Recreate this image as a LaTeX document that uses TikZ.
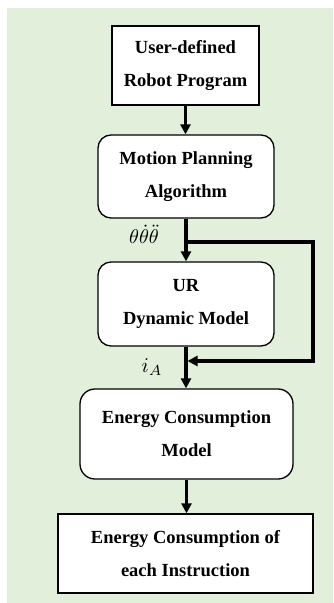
\documentclass[tikz,border=0pt]{standalone}
\usepackage{fontspec}
\usepackage{graphicx}
\setmainfont{Liberation Serif}
\usetikzlibrary{arrows.meta,calc}
\definecolor{bggreen}{RGB}{226,239,218}
\tikzset{
  blk/.style={draw=black, line width=1.3pt, fill=white, align=center,
    font=\bfseries\fontsize{18.5}{33}\selectfont, inner sep=0pt},
  rblk/.style={blk, rounded corners=13pt},
  arr/.style={line width=3.2pt, -{Triangle[width=10pt,length=10pt]}},
  lbl/.style={inner sep=0pt}
}
\begin{document}
\begin{tikzpicture}[x=1pt,y=1pt]
\useasboundingbox (0,0) rectangle (333,-603);
\fill[bggreen] (7,-8) rectangle (333,-603);
\node[blk, minimum width=147pt, minimum height=79pt] (b1) at (185.5,-65.5) {User-defined\\Robot Program};
\node[rblk, minimum width=176pt, minimum height=83pt] (b2) at (186,-176.5) {Motion Planning\\Algorithm};
\node[rblk, minimum width=176pt, minimum height=84pt] (b3) at (186,-304) {UR\\Dynamic Model};
\node[rblk, rounded corners=15pt, minimum width=213pt, minimum height=90pt] (b4) at (186.5,-434) {Energy Consumption\\Model};
\node[blk, minimum width=255pt, minimum height=79pt] (b5) at (185.5,-553.5) {Energy Consumption of\\each Instruction};
\coordinate (br) at (186,-242);
\coordinate (cr) at (313,-242);
\coordinate (mg) at (187.5,-361);
\node[lbl] (th) at (144,-234) {\scalebox{2.0}{$\theta\dot{\theta}\ddot{\theta}$}};
\node[lbl] (ia) at (152,-367) {\scalebox{2.1}{$i_A$}};
\draw[arr] (b1.south) -- (b2.north -| b1.south);
\draw[arr] (b2.south) -- (b3.north);
\draw[arr] (br) -- (cr) |- (mg);
\draw[arr] (b3.south) -- (b4.north -| b3.south);
\draw[arr] (b4.south) -- (b5.north -| b4.south);
\end{tikzpicture}
\end{document}
